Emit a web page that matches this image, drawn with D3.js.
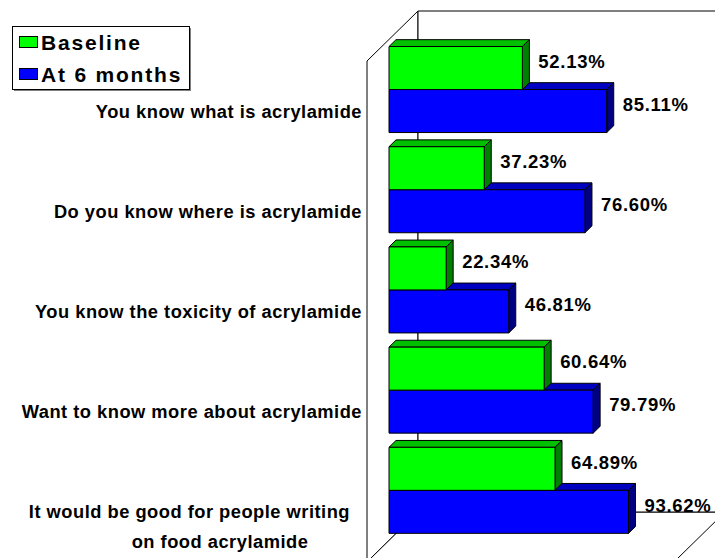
<!DOCTYPE html>
<html>
<head>
<meta charset="utf-8">
<script src="https://cdn.jsdelivr.net/npm/d3@7"></script>
<style>
  html, body { margin: 0; padding: 0; background: #fff; }
  svg { display: block; }
  text { font-family: "Liberation Sans", Arial, sans-serif; font-weight: bold; fill: #000; }
</style>
</head>
<body>
<svg id="chart" width="715" height="558"></svg>
<script>
// ---- data ----
const categories = [
  "You know what is acrylamide",
  "Do you know where is acrylamide",
  "You know the toxicity of acrylamide",
  "Want to know more about acrylamide",
  "It would be good for people writing on food acrylamide"
];
const categoryLines = [
  ["You know what is acrylamide"],
  ["Do you know where is acrylamide"],
  ["You know the toxicity of acrylamide"],
  ["Want to know more about acrylamide"],
  ["It would be good for people writing", "on food acrylamide"]
];
const seriesNames = ["Baseline", "At 6 months"];
const baseline = [52.13, 37.23, 22.34, 60.64, 64.89];
const sixMonths = [85.11, 76.60, 46.81, 79.79, 93.62];
const axisMax = 120;

// ---- layout ----
const svg = d3.select("#chart");
const ox = 367, oy = 61;          // front-top corner of plot (front plane)
const plotW = 307, plotH = 501;   // front plane size
const depthX = 51, depthY = -50;  // full depth vector
const barD0 = 22 / 51, barD1 = 29 / 51; // bar front/back depth fractions

const x = d3.scaleLinear().domain([0, axisMax]).range([0, plotW]);
const y = d3.scaleBand().domain(categories).range([0, plotH]).paddingInner(0).paddingOuter(0);
const ys = d3.scaleBand().domain(seriesNames).range([0, y.bandwidth()]).paddingInner(0).paddingOuter(0.165);

const colors = {
  "Baseline":    { front: "#00FF00", top: "#00C000", side: "#008000" },
  "At 6 months": { front: "#0000FF", top: "#0000C0", side: "#000080" }
};

function P(xv, yv, d) { return [ox + xv + d * depthX, oy + yv + d * depthY]; }
const poly = pts => "M" + pts.map(p => p.join(",")).join("L") + "Z";

// ---- walls ----
const walls = svg.append("g");
walls.append("path")
  .attr("d", poly([P(0, 0, 0), P(0, 0, 1), P(0, plotH, 1), P(0, plotH, 0)]))
  .attr("fill", "#fff").attr("stroke", "#000").attr("stroke-width", 1);
walls.append("path")
  .attr("d", poly([P(0, plotH, 0), P(0, plotH, 1), P(plotW, plotH, 1), P(plotW, plotH, 0)]))
  .attr("fill", "#fff").attr("stroke", "#000").attr("stroke-width", 1);
walls.append("path")
  .attr("d", poly([P(0, 0, 1), P(plotW, 0, 1), P(plotW, plotH, 1), P(0, plotH, 1)]))
  .attr("fill", "#fff").attr("stroke", "#000").attr("stroke-width", 1);

// ---- bars ----
const bars = [];
categories.forEach((c, i) => {
  bars.push({ cat: c, s: "At 6 months", v: sixMonths[i] });
  bars.push({ cat: c, s: "Baseline", v: baseline[i] });
});
bars.sort((a, b) => (y(b.cat) + ys(b.s)) - (y(a.cat) + ys(a.s)));

const bg = svg.append("g");
const lblG = svg.append("g");
bars.forEach(b => {
  const y0 = y(b.cat) + ys(b.s), y1 = y0 + ys.bandwidth();
  const w = x(b.v);
  const col = colors[b.s];
  const g = bg.append("g").attr("stroke", "#000").attr("stroke-width", 1).attr("stroke-linejoin", "round");
  g.append("path").attr("fill", col.top)
    .attr("d", poly([P(0, y0, barD0), P(w, y0, barD0), P(w, y0, barD1), P(0, y0, barD1)]));
  g.append("path").attr("fill", col.side)
    .attr("d", poly([P(w, y0, barD0), P(w, y0, barD1), P(w, y1, barD1), P(w, y1, barD0)]));
  g.append("path").attr("fill", col.front)
    .attr("d", poly([P(0, y0, barD0), P(w, y0, barD0), P(w, y1, barD0), P(0, y1, barD0)]));
  const lp = P(w, (y0 + y1) / 2, barD1);
  lblG.append("text")
    .attr("x", lp[0] + 9).attr("y", lp[1])
    .attr("dy", "0.36em")
    .style("font-size", "18.5px").style("letter-spacing", "0.7px")
    .text(b.v.toFixed(2) + "%");
});

// ---- category labels ----
const catStyle = sel => sel.style("font-size", "18.3px").style("letter-spacing", "0.5px");
categories.forEach((c, i) => {
  const lines = categoryLines[i];
  const cy = oy + y(c) + y.bandwidth() / 2;
  if (lines.length === 1) {
    svg.append("text")
      .attr("x", 362).attr("y", cy).attr("dy", "0.36em")
      .attr("text-anchor", "end")
      .call(catStyle)
      .text(lines[0]);
  } else {
    svg.append("text")
      .attr("x", 350).attr("y", cy).attr("dy", "0.36em")
      .attr("text-anchor", "end")
      .call(catStyle)
      .text(lines[0]);
    svg.append("text")
      .attr("x", 220).attr("y", cy + 30).attr("dy", "0.36em")
      .attr("text-anchor", "middle")
      .call(catStyle)
      .text(lines[1]);
  }
});

// ---- legend ----
const lg = svg.append("g");
lg.append("rect").attr("x", 14).attr("y", 28).attr("width", 177).attr("height", 63).attr("fill", "#808080");
lg.append("rect").attr("x", 12.5).attr("y", 26.5).attr("width", 177).attr("height", 63)
  .attr("fill", "#fff").attr("stroke", "#000").attr("stroke-width", 1);
seriesNames.forEach((s, i) => {
  const ly = 42 + i * 32;
  lg.append("rect").attr("x", 19.5).attr("y", ly - 5.5).attr("width", 18).attr("height", 11)
    .attr("fill", colors[s].front).attr("stroke", "#000").attr("stroke-width", 1);
  lg.append("text").attr("x", 41).attr("y", ly).attr("dy", "0.36em")
    .style("font-size", "21px").style("letter-spacing", "1.8px")
    .text(s);
});
</script>
</body>
</html>
